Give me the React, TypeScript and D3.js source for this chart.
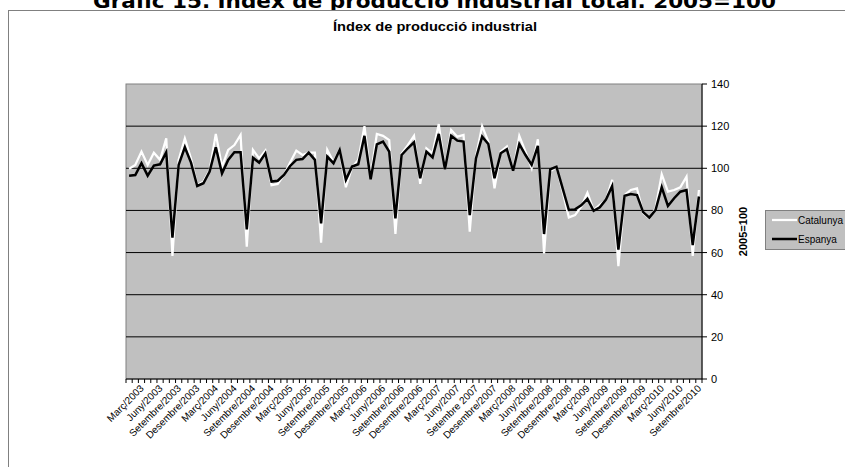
import React from "react";
import * as d3 from "d3";

const tickLabels = [
  "Març/2003", "Juny/2003", "Setembre/2003", "Desembre/2003",
  "Març/2004", "Juny/2004", "Setembre/2004", "Desembre/2004",
  "Març/2005", "Juny/2005", "Setembre/2005", "Desembre/2005",
  "Març/2006", "Juny/2006", "Setembre/2006", "Desembre/2006",
  "Març/2007", "Juny/2007", "Setembre 2007", "Desembre/2007",
  "Març/2008", "Juny/2008", "Setembre/2008", "Desembre/2008",
  "Març/2009", "Juny/2009", "Setembre/2009", "Desembre/2009",
  "Març/2010", "Juny/2010", "Setembre/2010",
];

// monthly values, Jan 2003 - Sep 2010
const catalunya = [
  99.8, 101.6, 107.9, 101.6, 107.4, 104, 114.2, 58.4, 104, 114.2, 104.5, 92,
  93.7, 99, 116.3, 100.8, 108.7, 111, 115.8, 62.8, 108.7, 104.7, 108.4, 92,
  92.6, 96.8, 102.7, 108.4, 106.3, 107.4, 107.4, 64.7, 108.7, 103, 109, 91,
  100.5, 104, 120, 96, 116.3, 115.4, 113.4, 68.8, 107, 111, 115.4, 92.6,
  109.5, 107.1, 121, 99.5, 118.2, 115, 115.8, 69.9, 105.5, 120, 112.7, 90.5,
  107.9, 110.3, 98.4, 115.4, 107.9, 100, 113.8, 59.6, 98.4, 100.8, 89, 76.7,
  77.8, 81.8, 88.4, 80.2, 82.6, 85, 94.5, 53.6, 87.3, 89.7, 90.5, 78.7,
  76.3, 81, 97.1, 88.9, 89.7, 91, 96, 58.4, 89.7,
];

const espanya = [
  96.5, 96.8, 102.4, 96.5, 101.3, 101.9, 107.6, 67.1, 101.6, 110, 102.7, 91.6,
  92.9, 98.4, 110, 97.6, 104, 107.6, 107.6, 71, 105, 102.7, 107.1, 93.7,
  94.1, 96.8, 101.1, 104, 104.4, 107.4, 104, 73.9, 105.5, 102.4, 108.7, 94.5,
  100.8, 101.9, 115.4, 94.8, 111.4, 112.7, 107.9, 76.2, 106.3, 109.5, 112.3, 95.3,
  107.9, 105.2, 116.3, 99.5, 115.4, 113.1, 112.7, 77.8, 104.7, 115, 111.5, 95.3,
  107.1, 109, 98.7, 111.5, 106.3, 101.6, 110.6, 68.8, 99.5, 100.8, 90.5, 80.2,
  80.5, 82.4, 85.5, 79.8, 81.5, 85.2, 91.6, 61.4, 87, 87.8, 87.3, 79.2,
  76.6, 80.2, 91, 82.1, 85.8, 88.9, 89.7, 63.6, 86.6,
];

const yTicks = [0, 20, 40, 60, 80, 100, 120, 140];

const W = 845;
const H = 467;
const FONT = "'Liberation Sans', Arial, sans-serif";

export default function App() {
  const left = 126;
  const right = 702;
  const top = 84;
  const bottom = 379;

  const idx = d3.range(catalunya.length);
  const x = d3.scaleBand<number>().domain(idx).range([left, right]).padding(0);
  const y = d3.scaleLinear().domain([0, 140]).range([bottom, top]);
  const cx = (i: number) => (x(i) as number) + x.bandwidth() / 2;

  const line = d3
    .line<number>()
    .x((_, i) => cx(i))
    .y((d) => y(d));

  const bounds = d3.range(catalunya.length + 1).map((i) => left + i * x.bandwidth());

  return (
    <svg
      width={W}
      height={H}
      style={{ position: "absolute", left: 0, top: 0, background: "#fff" }}
      fontFamily={FONT}
    >
      <text
        x={434.5}
        y={8}
        textAnchor="middle"
        fontSize={19}
        fontWeight="bold"
        fontFamily="'DejaVu Sans', Verdana, sans-serif"
        textLength={683}
        lengthAdjust="spacingAndGlyphs"
        fill="#000"
      >
        Gràfic 15. Índex de producció industrial total. 2005=100
      </text>
      <rect x={8.5} y={10.5} width={W} height={H} fill="#fff" stroke="#808080" strokeWidth={1} />
      <text
        x={435}
        y={31}
        textAnchor="middle"
        fontSize={13}
        fontWeight="bold"
        textLength={204}
        lengthAdjust="spacingAndGlyphs"
        fill="#000"
      >
        Índex de producció industrial
      </text>

      <rect x={left} y={top} width={right - left} height={bottom - top} fill="#C0C0C0" stroke="#808080" strokeWidth={1} />
      {yTicks
        .filter((t) => t > 0 && t < 140)
        .map((t) => (
          <line key={t} x1={left} x2={right} y1={y(t)} y2={y(t)} stroke="#000" strokeWidth={1} />
        ))}

      <path d={line(catalunya) || ""} fill="none" stroke="#fff" strokeWidth={2.25} strokeLinejoin="miter" />
      <path d={line(espanya) || ""} fill="none" stroke="#000" strokeWidth={2.5} strokeLinejoin="miter" />

      {/* right axis */}
      <line x1={right} x2={right} y1={top} y2={bottom} stroke="#000" strokeWidth={1} />
      {yTicks.map((t) => (
        <g key={t}>
          <line x1={right} x2={right + 5} y1={y(t)} y2={y(t)} stroke="#000" strokeWidth={1} />
          <text x={711} y={y(t) + 4} fontSize={11} fill="#000">
            {t}
          </text>
        </g>
      ))}
      <text
        transform={`translate(747, ${(top + bottom) / 2}) rotate(-90)`}
        textAnchor="middle"
        fontSize={11}
        fontWeight="bold"
        fill="#000"
      >
        2005=100
      </text>

      {/* bottom axis */}
      <line x1={left} x2={right} y1={bottom} y2={bottom} stroke="#000" strokeWidth={1} />
      {bounds.map((bx, i) => (
        <line key={i} x1={bx} x2={bx} y1={bottom} y2={bottom + 4} stroke="#000" strokeWidth={1} />
      ))}
      {tickLabels.map((lab, k) => {
        const i = 2 + k * 3;
        return (
          <text
            key={lab}
            transform={`translate(${cx(i) + 3}, ${bottom + 10}) rotate(-45)`}
            textAnchor="end"
            fontSize={10}
            fill="#000"
          >
            {lab}
          </text>
        );
      })}

      {/* legend */}
      <rect x={765.5} y={210.5} width={100} height={39} fill="#C0C0C0" stroke="#808080" strokeWidth={1} />
      <line x1={772} x2={797} y1={220} y2={220} stroke="#fff" strokeWidth={2.25} />
      <text x={798} y={223.5} fontSize={10} fill="#000">Catalunya</text>
      <line x1={772} x2={797} y1={239} y2={239} stroke="#000" strokeWidth={2.5} />
      <text x={798} y={242.5} fontSize={10} fill="#000">Espanya</text>
    </svg>
  );
}
